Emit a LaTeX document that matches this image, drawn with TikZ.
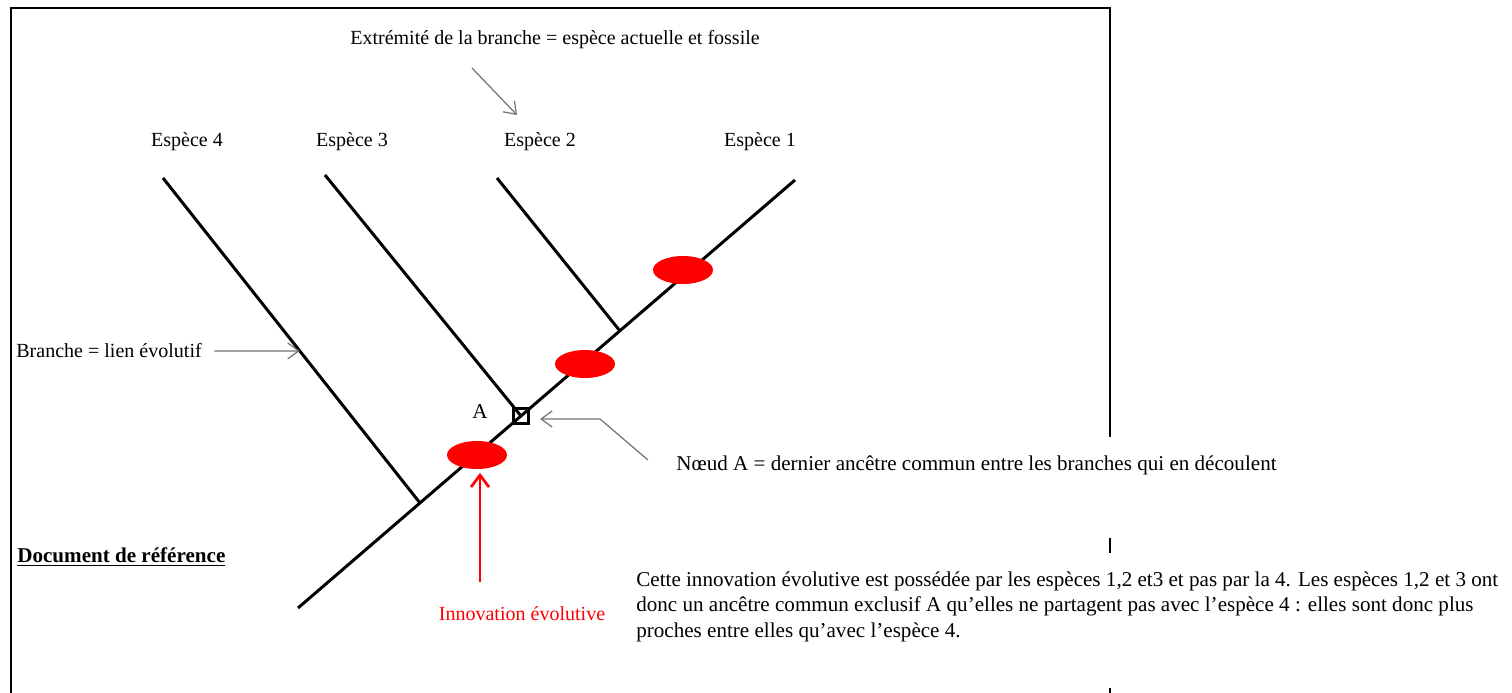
\documentclass[tikz,border=0pt]{standalone}
\usepackage{fontspec}
\setmainfont{Liberation Serif}
\usepackage{xcolor}
\usepackage{tikz}
\usetikzlibrary{arrows.meta,positioning,calc,shapes.geometric}

\begin{document}
\begin{tikzpicture}[x=0.02cm, y=-0.02cm,
  branch/.style={line width=1.7pt, black},
  frame/.style={line width=1.1pt, black},
  label/.style={font=\fontsize{11.4}{13}\selectfont, inner sep=0pt},
  body/.style={font=\fontsize{12}{14.7}\selectfont, inner sep=0pt, align=left},
  innovmark/.style={ellipse, fill=red, draw=none, minimum width=1.2cm, minimum height=0.56cm, inner sep=0pt},
  pointer/.style={-{Straight Barb[length=2.2mm, width=3.2mm]}, line width=0.7pt, black!55},
  redarrow/.style={-{Straight Barb[length=2.4mm, width=3.6mm]}, line width=1.5pt, red}]

\useasboundingbox (0,0) rectangle (1512,693);

% frame (right side partly hidden by the text)
\draw[frame] (11,693) -- (11,8) -- (1110,8) -- (1110,437);
\draw[frame] (1110,538) -- (1110,553);
\draw[frame] (1110,688) -- (1110,693);

% tree
\coordinate (root) at (298,608);
\coordinate (tip1) at (795,180);
\coordinate (tip2) at (497,178);
\coordinate (tip3) at (325,175);
\coordinate (tip4) at (163,178);
\coordinate (j4) at (420,503);
\coordinate (j2) at (620,331);

\draw[branch] (root) -- (tip1);
\draw[branch] (tip4) -- (j4);
\draw[branch] (tip3) -- (521,416);
\draw[branch] (tip2) -- (j2);

\node[draw, line width=1.2pt, minimum size=0.3cm, inner sep=0pt] (nA) at (521,416) {};
\node[body] (lblA) at (480,412) {A};

\node[innovmark] (mark1) at (683,270) {};
\node[innovmark] (mark2) at (585,364) {};
\node[innovmark] (mark3) at (477,455) {};

% species
\node[label] (esp4) at (187,142) {Espèce 4};
\node[label] (esp3) at (352,142) {Espèce 3};
\node[label] (esp2) at (540,142) {Espèce 2};
\node[label] (esp1) at (760,142) {Espèce 1};

% annotations
\node[label] (title) at (555,40) {Extrémité de la branche = espèce actuelle et fossile};
\coordinate (ttail) at (472,68);
\coordinate (thead) at (517,115);
\draw[pointer] (ttail) -- (thead);

\node[label, anchor=west] (brlabel) at (16,351) {Branche = lien évolutif};
\coordinate (brhit) at ($(tip4)!0.532!(j4)$);
\draw[pointer] ([xshift=7pt]brlabel.east) -- (brhit);

\node[body, anchor=west] (noeud) at (676,465) {Nœud A = dernier ancêtre commun entre les branches qui en découlent};
\coordinate (ntail) at (648,460);
\coordinate (nbend) at (600,419);
\draw[pointer] (ntail) -- (nbend) -- ([xshift=6pt]nA.east |- nbend);

\node[font=\fontsize{12}{14}\selectfont\bfseries, inner sep=0pt, anchor=west] (docref) at (17,557) {\underline{Document de référence}};

\coordinate (itail) at (480,582);
\draw[redarrow] (itail) -- ([yshift=-2pt]itail |- mark3.south);
\node[label, text=red] (innov) at (522,614) {Innovation évolutive};

\node[body, anchor=north west] (expl) at (636,571) {Cette innovation évolutive est possédée par les espèces 1,2 et3 et pas par la 4. Les espèces 1,2 et 3 ont\\
donc un ancêtre commun exclusif A qu’elles ne partagent pas avec l’espèce 4 : elles sont donc plus\\
proches entre elles qu’avec l’espèce 4.};
\end{tikzpicture}
\end{document}
